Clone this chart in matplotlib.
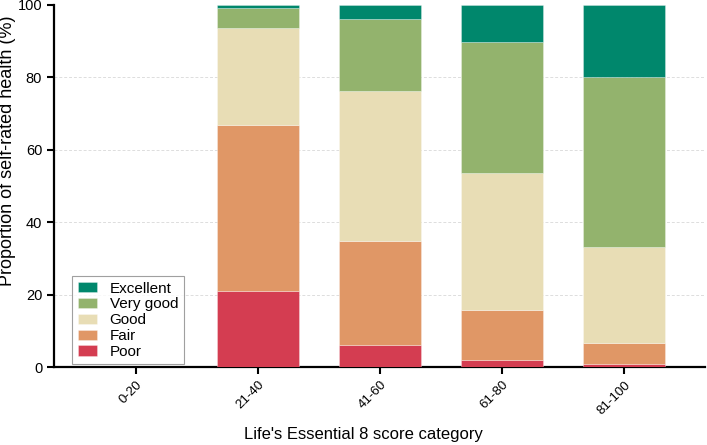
import matplotlib
matplotlib.use("Agg")
import matplotlib.pyplot as plt
import numpy as np

plt.rcParams['font.family'] = ['Liberation Sans', 'DejaVu Sans']

categories = ["0-20", "21-40", "41-60", "61-80", "81-100"]
poor      = [0.0, 21.0, 6.1, 1.9, 0.8]
fair      = [0.0, 45.8, 28.8, 13.8, 5.9]
good      = [0.0, 26.8, 41.2, 38.0, 26.6]
very_good = [0.0, 5.5, 19.9, 36.1, 46.8]
excellent = [0.0, 0.9, 4.0, 10.2, 19.9]

series = [("Poor", poor, "#d43d51"),
          ("Fair", fair, "#e09766"),
          ("Good", good, "#e8ddb5"),
          ("Very good", very_good, "#93b36d"),
          ("Excellent", excellent, "#00876c")]

fig = plt.figure(figsize=(7.07, 4.45), dpi=100)
ax = fig.add_axes([0.0764, 0.175, 0.9206, 0.814])

x = np.arange(len(categories))
bottom = np.zeros(len(categories))
handles = []
for name, vals, col in series:
    vals = np.array(vals)
    b = ax.bar(x, vals, 0.67, bottom=bottom, color=col, label=name,
               edgecolor=(1, 1, 1, 0.35), linewidth=0.6, zorder=3)
    handles.append(b)
    bottom += vals

ax.set_xlim(-0.67, 4.66)
ax.set_ylim(0, 100)
ax.set_yticks([0, 20, 40, 60, 80, 100])
ax.set_xticks(x)
ax.set_xticklabels(categories, rotation=45, ha='right', rotation_mode='anchor', fontsize=9.5)
ax.tick_params(axis='y', labelsize=10.5, width=1.5, length=5)
ax.tick_params(axis='x', width=1.5, length=5)
for yv in [20, 40, 60, 80]:
    ax.axhline(yv, color='#dddddd', linestyle=(0, (3, 2)), linewidth=0.7, zorder=1)
for s in ['top', 'right']:
    ax.spines[s].set_visible(False)
for s in ['left', 'bottom']:
    ax.spines[s].set_linewidth(1.6)

ax.set_ylabel("Proportion of self-rated health (%)", fontsize=13)
ax.yaxis.set_label_coords(-0.058, 0.597)
ax.set_xlabel("Life's Essential 8 score category", fontsize=12)
ax.xaxis.set_label_coords(0.475, -0.165)

leg = ax.legend(handles[::-1], [s[0] for s in series][::-1], loc='lower left',
                bbox_to_anchor=(0.028, 0.008), fontsize=11, frameon=True,
                fancybox=False, edgecolor='#888888', handlelength=1.3,
                handleheight=0.65, labelspacing=0.12, borderpad=0.35,
                borderaxespad=0.0, handletextpad=0.8)
leg.get_frame().set_linewidth(0.8)

fig.savefig("out.png", dpi=100)
